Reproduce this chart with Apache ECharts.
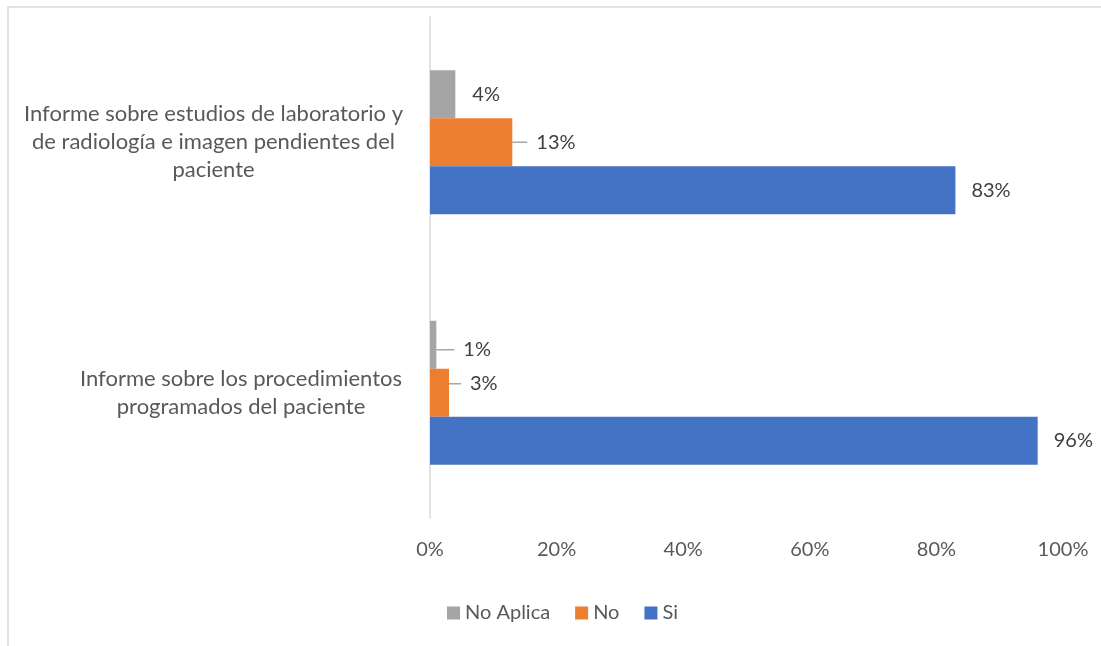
<!DOCTYPE html>
<html>
<head>
<meta charset="utf-8">
<script src="https://cdn.jsdelivr.net/npm/echarts@6/dist/echarts.min.js"></script>
<style>
  html, body { margin: 0; padding: 0; background: #fff; }
  #chart { width: 1101px; height: 646px; }
</style>
</head>
<body>
<div id="chart"></div>
<script>
// categories from bottom to top (category axis starts at the bottom)
const categories = [
  'Informe sobre los procedimientos\nprogramados del paciente',
  'Informe sobre estudios de laboratorio y\nde radiología e imagen pendientes del\npaciente'
]
const siValues = [96, 83]
const noValues = [3, 13]
const noAplicaValues = [1, 4]
const xTicks = [0, 20, 40, 60, 80, 100]

const font = 'Lato, "Open Sans", sans-serif'

// small labels nudged away from the bar, like the original leader lines
const labelShift = {
  'No Aplica': [{ dx: 2, dy: 5, line: true }, { dx: 1, dy: 0, line: false }],
  'No': [{ dx: -4, dy: -9, line: true }, { dx: -1, dy: 0, line: true }]
}

const chart = echarts.init(document.getElementById('chart'))

function makeSeries(name, values, color) {
  const shift = labelShift[name]
  const hasLine = i => !!(shift && shift[i].line)
  return {
    name: name,
    type: 'bar',
    barWidth: 48,
    barGap: '0%',
    itemStyle: { color: color },
    data: values.map((v, i) => ({ value: v, labelLine: { show: hasLine(i) } })),
    label: {
      show: true,
      position: 'right',
      distance: 16,
      formatter: p => hasLine(p.dataIndex) ? '{s|}{v|' + p.value + '%}' : '{v|' + p.value + '%}',
      rich: {
        s: { width: 9 },
        v: { color: '#404040', fontSize: 20, fontFamily: font }
      }
    },
    labelLine: { lineStyle: { color: '#a6a6a6', width: 1.5 } },
    labelLayout: function (p) {
      return shift ? { dx: shift[p.dataIndex].dx, dy: shift[p.dataIndex].dy } : {}
    }
  }
}

const option = {
  backgroundColor: '#fff',
  animation: false,
  graphic: [{
    type: 'rect',
    shape: { x: 8, y: 7, width: 1200, height: 800 },
    style: { fill: 'none', stroke: '#d9d9d9', lineWidth: 1.5 },
    silent: true
  }],
  grid: { left: 430, right: 38, top: 17, bottom: 128 },
  legend: {
    data: ['No Aplica', 'No', 'Si'],
    bottom: 18,
    left: 442,
    icon: 'rect',
    itemWidth: 13,
    itemHeight: 13,
    itemGap: 25,
    textStyle: { color: '#595959', fontSize: 20, fontFamily: font }
  },
  xAxis: {
    type: 'value',
    min: 0,
    max: xTicks[xTicks.length - 1],
    interval: 20,
    axisLine: { show: false },
    axisTick: { show: false },
    splitLine: { show: false },
    axisLabel: {
      formatter: '{value}%',
      color: '#595959',
      fontSize: 20,
      fontFamily: font,
      margin: 22
    }
  },
  yAxis: {
    type: 'category',
    data: categories,
    axisLine: { lineStyle: { color: '#d9d9d9', width: 1.5 } },
    axisTick: { show: false },
    axisLabel: {
      color: '#595959',
      fontSize: 22,
      fontFamily: font,
      lineHeight: 28,
      margin: 24,
      align: 'right',
      formatter: function (v, i) {
        const key = i === 0 ? 'b' : 'a'
        return v.split('\n').map(l => '{' + key + '|' + l + '}').join('\n')
      },
      rich: {
        a: { width: 385, align: 'center', fontSize: 22, lineHeight: 28, color: '#595959', fontFamily: font },
        b: { width: 330, align: 'center', fontSize: 22, lineHeight: 28, color: '#595959', fontFamily: font }
      }
    }
  },
  series: [
    makeSeries('No Aplica', noAplicaValues, '#a5a5a5'),
    makeSeries('No', noValues, '#ed7d31'),
    makeSeries('Si', siValues, '#4472c4')
  ]
}

chart.setOption(option)
</script>
</body>
</html>
